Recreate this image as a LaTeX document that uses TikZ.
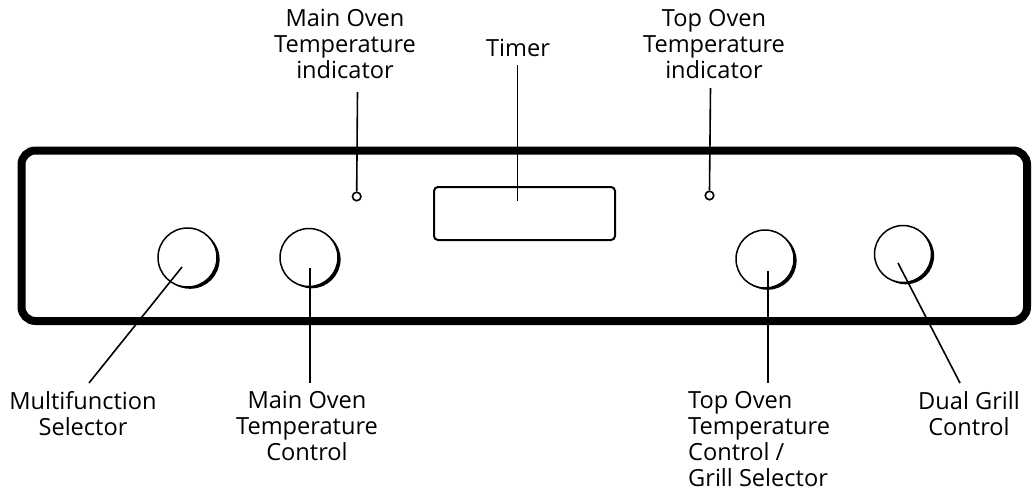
\documentclass[tikz,border=0pt]{standalone}
\usepackage{fontspec}
\setmainfont{Open Sans}
\newcommand\ovenknob[4]{% name, x, y, r
  \fill (#2+2.6,#3+1.8) circle[radius=#4];
  \fill[white] (#2,#3) circle[radius=#4];
  \node[knob, minimum size=2*#4] (#1) at (#2,#3) {};
}
\begin{document}
\begin{tikzpicture}[x=1pt,y=-1pt,
  lbl/.style={inner sep=0pt, font=\fontsize{23.6}{26}\selectfont, align=center},
  lead/.style={line width=1.6pt},
  knob/.style={draw, circle, inner sep=0pt, line width=1.5pt},
  lamp/.style={draw, circle, inner sep=0pt, minimum size=8.5, line width=1.6pt},
  panel/.style={line width=8pt, rounded corners=14pt}]
\useasboundingbox (0,0) rectangle (1034,490);
% panel
\draw[panel] (21.5,150.5) rectangle (1027,321);
% timer window and lamps
\node[draw, rounded corners=4pt, line width=2pt, minimum width=181, minimum height=53, inner sep=0pt] (timer) at (524.5,213.5) {};
\node[lamp] (mlamp) at (356.7,196.5) {};
\node[lamp] (tlamp) at (709.5,195.5) {};
% knobs
\ovenknob{k1}{187.5}{257.5}{29.5}
\ovenknob{k2}{309}{257.5}{29}
\ovenknob{k3}{765}{259}{29}
\ovenknob{k4}{903}{254}{28.5}
% labels
\node[lbl, anchor=north] (lmoti) at (345,9) {Main Oven\\Temperature\\indicator};
\node[lbl, anchor=north] (ltimer) at (518,39) {Timer};
\node[lbl, anchor=north] (ltoti) at (714,9.6) {Top Oven\\Temperature\\indicator};
\node[lbl, anchor=north] (lmfs) at (83,391) {Multifunction\\Selector};
\node[lbl, anchor=north] (lmotc) at (307,391) {Main Oven\\Temperature\\Control};
\node[lbl, anchor=north west, align=left] (ltotc) at (688,391.6) {Top Oven\\Temperature\\Control /\\Grill Selector};
\node[lbl, anchor=north] (ldgc) at (969,391) {Dual Grill\\Control};
% leader end points
\coordinate (t1) at (357.5,92);
\coordinate (t2) at (517.5,65);
\coordinate (t3) at (710.5,88);
\coordinate (timertip) at (517.5,201);
\coordinate (k1tip) at (182,267);
\coordinate (k2tip) at (310,268);
\coordinate (k3tip) at (768,271);
\coordinate (k4tip) at (898,263);
\coordinate (b1) at (89,383);
\coordinate (b2) at (310,383);
\coordinate (b3) at (768,383);
\coordinate (b4) at (960,383);
% leaders
\draw[lead] (t1) -- (mlamp.north);
\draw[lead] (t2) -- (timertip);
\draw[lead] (t3) -- (tlamp.north);
\draw[lead] (k1tip) -- (b1);
\draw[lead] (k2tip) -- (b2);
\draw[lead] (k3tip) -- (b3);
\draw[lead] (k4tip) -- (b4);
\end{tikzpicture}
\end{document}
